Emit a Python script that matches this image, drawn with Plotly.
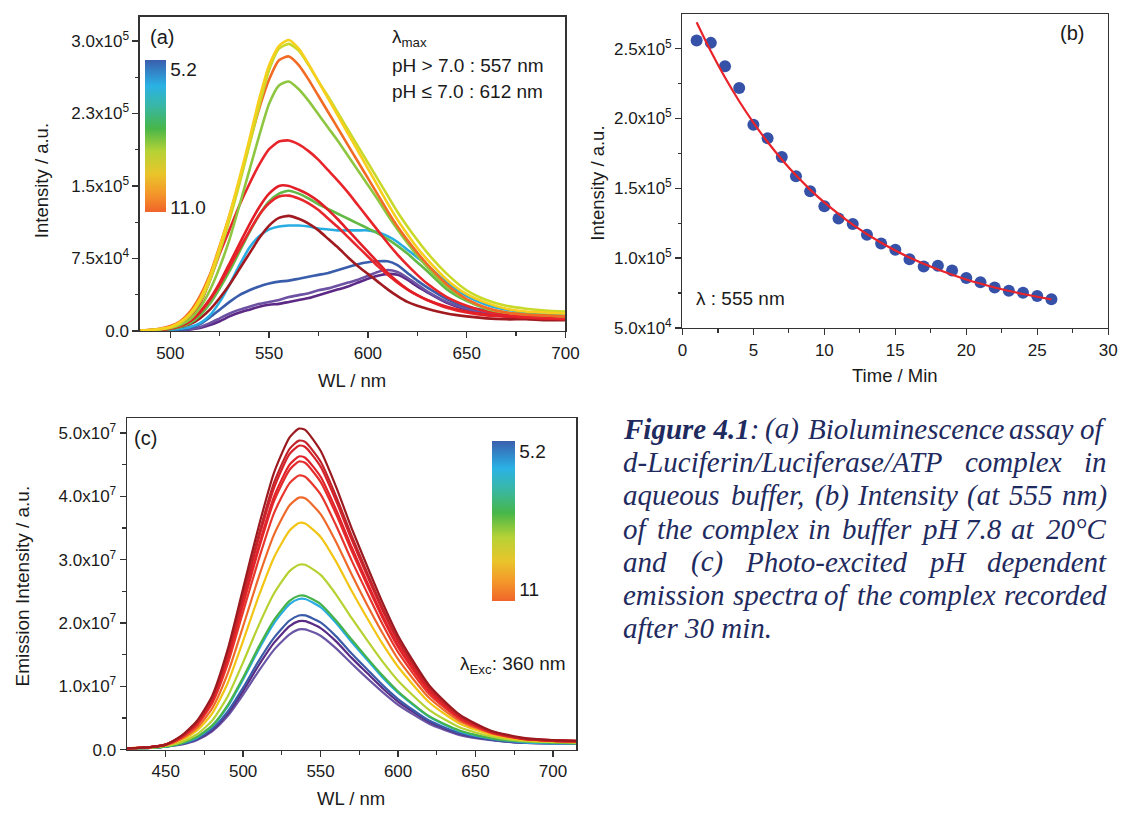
import plotly.graph_objects as go

W, H = 1133, 818

# ---------------- Panel (a): bioluminescence spectra (values in units of 1e5) ----------------
WL_A = [485, 490, 495, 500, 505, 510, 515, 520, 525, 530, 535, 540, 545, 550, 555, 560, 565, 570,
        575, 580, 585, 590, 595, 600, 605, 610, 615, 620, 625, 630, 640, 650, 660, 670, 680, 690, 700]
UNIT_A = 1e5
A_YELLOW = [0.005, 0.01, 0.02, 0.04, 0.09, 0.18, 0.33, 0.56, 0.87, 1.2, 1.58, 1.98, 2.4, 2.75, 2.95, 3.01, 2.92, 2.76,
            2.58, 2.4, 2.22, 2.04, 1.86, 1.68, 1.5, 1.32, 1.15, 1.0, 0.86, 0.74, 0.53, 0.38, 0.29, 0.23, 0.2, 0.19, 0.18]
A_LIME = [0.005, 0.01, 0.02, 0.035, 0.08, 0.16, 0.3, 0.52, 0.82, 1.15, 1.52, 1.92, 2.33, 2.7, 2.92, 2.97, 2.9, 2.75,
          2.58, 2.42, 2.25, 2.08, 1.91, 1.74, 1.57, 1.4, 1.23, 1.08, 0.94, 0.81, 0.59, 0.42, 0.32, 0.26, 0.23, 0.21, 0.2]
A_ORANGE = [0.006, 0.012, 0.025, 0.05, 0.1, 0.2, 0.36, 0.58, 0.88, 1.2, 1.56, 1.94, 2.3, 2.6, 2.8, 2.84, 2.75, 2.6,
            2.43, 2.26, 2.09, 1.92, 1.75, 1.58, 1.41, 1.24, 1.08, 0.94, 0.81, 0.69, 0.48, 0.33, 0.24, 0.19, 0.17, 0.16, 0.15]
A_YGREEN = [0.004, 0.008, 0.016, 0.03, 0.06, 0.12, 0.24, 0.42, 0.66, 0.95, 1.3, 1.66, 2.02, 2.35, 2.54, 2.58, 2.5, 2.38,
            2.24, 2.1, 1.96, 1.81, 1.66, 1.51, 1.36, 1.2, 1.05, 0.91, 0.78, 0.66, 0.46, 0.32, 0.23, 0.19, 0.17, 0.16, 0.15]
A_RED1 = [0.004, 0.008, 0.016, 0.03, 0.06, 0.15, 0.28, 0.52, 0.8, 1.05, 1.3, 1.52, 1.72, 1.88, 1.96, 1.97, 1.93, 1.86,
          1.77, 1.66, 1.55, 1.43, 1.3, 1.17, 1.04, 0.91, 0.79, 0.68, 0.58, 0.49, 0.35, 0.26, 0.2, 0.17, 0.15, 0.14, 0.13]
A_RED2 = [0.003, 0.006, 0.012, 0.025, 0.05, 0.1, 0.2, 0.33, 0.5, 0.7, 0.9, 1.1, 1.28, 1.42, 1.5, 1.5, 1.46, 1.41,
          1.34, 1.25, 1.15, 1.04, 0.93, 0.82, 0.71, 0.6, 0.51, 0.43, 0.37, 0.32, 0.25, 0.2, 0.17, 0.15, 0.14, 0.13, 0.13]
A_RED3 = [0.003, 0.006, 0.012, 0.024, 0.05, 0.1, 0.19, 0.32, 0.48, 0.66, 0.85, 1.03, 1.2, 1.32, 1.39, 1.4, 1.37, 1.32,
          1.25, 1.16, 1.07, 0.97, 0.87, 0.77, 0.67, 0.58, 0.5, 0.43, 0.37, 0.32, 0.24, 0.19, 0.16, 0.15, 0.14, 0.13, 0.12]
A_GREEN = [0.003, 0.005, 0.01, 0.02, 0.04, 0.08, 0.16, 0.28, 0.44, 0.62, 0.82, 1.02, 1.2, 1.34, 1.42, 1.45, 1.42, 1.37,
           1.31, 1.26, 1.21, 1.16, 1.11, 1.06, 1.01, 0.95, 0.88, 0.8, 0.71, 0.62, 0.43, 0.31, 0.23, 0.19, 0.17, 0.16, 0.15]
A_DARKRED = [0.003, 0.005, 0.01, 0.02, 0.04, 0.07, 0.13, 0.22, 0.34, 0.48, 0.64, 0.8, 0.96, 1.09, 1.17, 1.19, 1.16, 1.11,
             1.04, 0.95, 0.86, 0.76, 0.67, 0.59, 0.51, 0.43, 0.36, 0.3, 0.26, 0.23, 0.18, 0.15, 0.13, 0.12, 0.12, 0.11, 0.11]
A_CYAN = [0.002, 0.004, 0.007, 0.012, 0.022, 0.04, 0.08, 0.16, 0.3, 0.48, 0.68, 0.86, 0.98, 1.05, 1.08, 1.09, 1.09, 1.08,
          1.06, 1.05, 1.04, 1.04, 1.04, 1.04, 1.02, 0.98, 0.92, 0.84, 0.76, 0.68, 0.5, 0.36, 0.27, 0.22, 0.19, 0.17, 0.16]
A_BLUE = [0.001, 0.002, 0.004, 0.007, 0.013, 0.03, 0.07, 0.14, 0.22, 0.3, 0.37, 0.42, 0.46, 0.49, 0.51, 0.52, 0.54, 0.56,
          0.58, 0.6, 0.63, 0.66, 0.69, 0.71, 0.72, 0.72, 0.68, 0.6, 0.52, 0.45, 0.33, 0.25, 0.21, 0.18, 0.16, 0.15, 0.14]
A_PURPLE = [0.001, 0.002, 0.003, 0.005, 0.009, 0.018, 0.04, 0.08, 0.13, 0.18, 0.22, 0.25, 0.28, 0.3, 0.32, 0.35, 0.37, 0.39,
            0.42, 0.44, 0.47, 0.5, 0.53, 0.57, 0.61, 0.63, 0.61, 0.55, 0.48, 0.41, 0.3, 0.23, 0.19, 0.16, 0.15, 0.14, 0.13]
A_DPURPLE = [0.001, 0.002, 0.003, 0.004, 0.007, 0.014, 0.03, 0.06, 0.1, 0.15, 0.19, 0.22, 0.25, 0.27, 0.28, 0.3, 0.32, 0.34,
             0.37, 0.4, 0.43, 0.46, 0.5, 0.54, 0.57, 0.59, 0.58, 0.53, 0.46, 0.4, 0.29, 0.22, 0.18, 0.15, 0.14, 0.13, 0.12]

SERIES_A = [
    (A_DPURPLE, "#5c2a86"), (A_PURPLE, "#6d52a3"), (A_BLUE, "#3a5dab"), (A_CYAN, "#28ade3"),
    (A_DARKRED, "#a01a20"), (A_GREEN, "#62b946"), (A_RED3, "#e8272d"), (A_RED2, "#e21f27"),
    (A_RED1, "#e8252b"), (A_YGREEN, "#8fc640"), (A_ORANGE, "#f26a23"), (A_LIME, "#c9d92a"),
    (A_YELLOW, "#f6d01c"),
]

# ---------------- Panel (b): intensity decay at 555 nm ----------------
T_MIN = list(range(1, 27))
B_INT = [2.559e5, 2.542e5, 2.375e5, 2.218e5, 1.956e5, 1.858e5, 1.724e5, 1.587e5, 1.479e5, 1.371e5,
         1.284e5, 1.244e5, 1.168e5, 1.105e5, 1.06e5, 0.992e5, 0.94e5, 0.945e5, 0.912e5, 0.858e5,
         0.827e5, 0.789e5, 0.766e5, 0.752e5, 0.728e5, 0.705e5]
FIT_T = [1, 2, 3, 4, 5, 6, 7, 8, 9, 10, 12, 14, 16, 18, 20, 22, 24, 26]
FIT_I = [2.69e5, 2.482e5, 2.294e5, 2.124e5, 1.971e5, 1.832e5, 1.707e5, 1.593e5, 1.491e5, 1.399e5,
         1.24e5, 1.11e5, 1.004e5, 0.918e5, 0.847e5, 0.79e5, 0.743e5, 0.705e5]

# ---------------- Panel (c): photo-excited emission (values in units of 1e7) ----------------
WL_C = [425, 440, 450, 460, 470, 480, 490, 500, 510, 520, 530, 536, 540, 550, 560, 570, 580, 590, 600,
        620, 640, 660, 680, 700, 715]
UNIT_C = 1e7
C_DARKRED = [0.02, 0.04, 0.08, 0.22, 0.45, 0.85, 1.58, 2.55, 3.52, 4.38, 4.93, 5.07, 5.05, 4.72, 4.15, 3.5, 2.9, 2.32, 1.8,
             1.02, 0.55, 0.3, 0.19, 0.15, 0.14]
C_RED1 = [0.02, 0.04, 0.08, 0.21, 0.43, 0.82, 1.52, 2.46, 3.39, 4.22, 4.75, 4.88, 4.86, 4.55, 4.0, 3.38, 2.8, 2.24, 1.74,
          0.99, 0.53, 0.29, 0.18, 0.15, 0.14]
C_RED2 = [0.02, 0.04, 0.08, 0.21, 0.42, 0.8, 1.49, 2.41, 3.33, 4.14, 4.67, 4.8, 4.78, 4.47, 3.93, 3.32, 2.75, 2.2, 1.71,
          0.97, 0.52, 0.29, 0.18, 0.15, 0.14]
C_RED3 = [0.02, 0.04, 0.08, 0.2, 0.41, 0.77, 1.44, 2.33, 3.21, 4.0, 4.5, 4.63, 4.61, 4.31, 3.79, 3.2, 2.65, 2.12, 1.65,
          0.94, 0.51, 0.28, 0.18, 0.14, 0.13]
C_RED4 = [0.02, 0.04, 0.08, 0.2, 0.4, 0.76, 1.42, 2.29, 3.16, 3.93, 4.42, 4.55, 4.53, 4.23, 3.72, 3.14, 2.6, 2.08, 1.62,
          0.92, 0.5, 0.28, 0.18, 0.14, 0.13]
C_RED5 = [0.02, 0.04, 0.08, 0.19, 0.38, 0.73, 1.35, 2.18, 3.0, 3.74, 4.21, 4.33, 4.31, 4.03, 3.54, 2.99, 2.48, 1.98, 1.54,
          0.88, 0.48, 0.27, 0.17, 0.14, 0.13]
C_ORANGE = [0.02, 0.04, 0.07, 0.17, 0.34, 0.65, 1.2, 1.95, 2.72, 3.4, 3.86, 3.98, 3.97, 3.72, 3.28, 2.77, 2.29, 1.84, 1.43,
            0.82, 0.45, 0.26, 0.17, 0.14, 0.13]
C_YELLOW = [0.02, 0.04, 0.07, 0.15, 0.3, 0.57, 1.05, 1.72, 2.42, 3.04, 3.46, 3.58, 3.57, 3.36, 2.97, 2.51, 2.08, 1.67, 1.31,
            0.75, 0.41, 0.24, 0.16, 0.13, 0.12]
C_YGREEN = [0.02, 0.03, 0.06, 0.12, 0.24, 0.46, 0.84, 1.38, 1.96, 2.47, 2.82, 2.92, 2.92, 2.76, 2.45, 2.08, 1.73, 1.39, 1.09,
            0.63, 0.35, 0.21, 0.14, 0.12, 0.11]
C_GREEN = [0.02, 0.03, 0.05, 0.1, 0.2, 0.38, 0.7, 1.14, 1.62, 2.05, 2.35, 2.43, 2.43, 2.3, 2.04, 1.74, 1.45, 1.17, 0.92,
           0.53, 0.3, 0.18, 0.13, 0.11, 0.1]
C_CYAN = [0.02, 0.03, 0.05, 0.1, 0.19, 0.37, 0.68, 1.11, 1.58, 2.0, 2.3, 2.38, 2.38, 2.25, 2.0, 1.7, 1.42, 1.14, 0.9,
          0.52, 0.29, 0.18, 0.12, 0.1, 0.1]
C_BLUE = [0.02, 0.03, 0.05, 0.09, 0.17, 0.33, 0.6, 0.98, 1.4, 1.77, 2.04, 2.12, 2.12, 2.01, 1.79, 1.52, 1.27, 1.02, 0.8,
          0.46, 0.26, 0.16, 0.11, 0.1, 0.1]
C_DPURPLE = [0.02, 0.03, 0.05, 0.09, 0.16, 0.31, 0.57, 0.93, 1.33, 1.69, 1.95, 2.03, 2.03, 1.92, 1.71, 1.45, 1.21, 0.97, 0.76,
             0.44, 0.25, 0.16, 0.11, 0.1, 0.1]
C_PURPLE = [0.02, 0.03, 0.05, 0.08, 0.15, 0.29, 0.53, 0.87, 1.24, 1.58, 1.82, 1.9, 1.9, 1.8, 1.6, 1.36, 1.13, 0.91, 0.71,
            0.41, 0.23, 0.15, 0.11, 0.1, 0.1]

SERIES_C = [
    (C_PURPLE, "#6b56a6"), (C_DPURPLE, "#5a2b84"), (C_BLUE, "#3b5ba9"), (C_CYAN, "#2aace2"),
    (C_GREEN, "#45b34a"), (C_YGREEN, "#b6d232"), (C_YELLOW, "#f2c514"), (C_ORANGE, "#ef6a2a"),
    (C_RED5, "#e8362d"), (C_RED4, "#e52b2b"), (C_RED3, "#e0232a"), (C_RED2, "#d62229"),
    (C_RED1, "#c3232a"), (C_DARKRED, "#9b1a1f"),
]

for s, _ in SERIES_A:
    assert len(s) == len(WL_A)
for s, _ in SERIES_C:
    assert len(s) == len(WL_C)
assert len(B_INT) == len(T_MIN) and len(FIT_I) == len(FIT_T)

PH_COLORSCALE = [[0.0, "#f0642a"], [0.12, "#f4972a"], [0.25, "#e9c52a"], [0.4, "#b5d236"],
                 [0.55, "#47b649"], [0.7, "#39b7a6"], [0.83, "#2ab2e5"], [1.0, "#3a5ead"]]

SANS = "Liberation Sans, Arial, sans-serif"
TXT = "#1a1a1a"
AX = "#333333"


def px(x):
    return x / W


def py(y):
    return 1 - y / H


fig = go.Figure()

for vals, col in SERIES_A:
    fig.add_trace(go.Scatter(x=WL_A, y=[v * UNIT_A for v in vals], mode="lines",
                             line=dict(color=col, width=2.6, shape="spline", smoothing=0.6),
                             xaxis="x", yaxis="y", hoverinfo="skip"))

fig.add_trace(go.Scatter(x=T_MIN, y=B_INT, mode="markers",
                         marker=dict(color="#3651a8", size=12),
                         xaxis="x2", yaxis="y2", hoverinfo="skip"))
fig.add_trace(go.Scatter(x=FIT_T, y=FIT_I, mode="lines",
                         line=dict(color="#e8232a", width=2.2, shape="spline"),
                         xaxis="x2", yaxis="y2", hoverinfo="skip"))

for vals, col in SERIES_C:
    fig.add_trace(go.Scatter(x=WL_C, y=[v * UNIT_C for v in vals], mode="lines",
                             line=dict(color=col, width=2.2, shape="spline", smoothing=0.6),
                             xaxis="x3", yaxis="y3", hoverinfo="skip"))


def cbar_trace(xaxis, yaxis, x0, y0, left, top, length, thick, labels, labpos):
    return go.Scatter(
        x=[x0], y=[y0], mode="markers", xaxis=xaxis, yaxis=yaxis, hoverinfo="skip",
        marker=dict(size=1, opacity=0, color=[0.5], cmin=0, cmax=1, colorscale=PH_COLORSCALE,
                    showscale=True,
                    colorbar=dict(x=px(left), xanchor="left", y=py(top), yanchor="top",
                                  len=length / H, lenmode="fraction", thickness=thick,
                                  thicknessmode="pixels", outlinewidth=0, xpad=0, ypad=0,
                                  tickmode="array", tickvals=labpos, ticktext=labels, ticks="",
                                  tickfont=dict(family=SANS, size=19, color=TXT))))


fig.add_trace(cbar_trace("x", "y", 600, 0, 142, 61, 154, 21, ["5.2", "11.0"], [0.94, 0.035]))
fig.add_trace(cbar_trace("x3", "y3", 600, 0, 495, 446, 162, 23, ["5.2", "11"], [0.934, 0.07]))

axis_common = dict(showline=True, linecolor=AX, linewidth=1.3, mirror=True, ticks="outside",
                   ticklen=6, tickwidth=1.3, tickcolor=AX, showgrid=False, zeroline=False,
                   tickfont=dict(family=SANS, size=17, color=TXT), fixedrange=True)


def minor(vals):
    return dict(tickmode="array", tickvals=vals, ticks="outside", ticklen=3.5, tickwidth=1.2,
                tickcolor=AX, showgrid=False)


fig.update_layout(
    width=W, height=H, margin=dict(l=0, r=0, t=0, b=0),
    paper_bgcolor="white", plot_bgcolor="white", showlegend=False,
    xaxis=dict(domain=[px(137), px(570)], anchor="y", range=[484.5, 700],
               tickmode="array", tickvals=[500, 550, 600, 650, 700],
               minor=minor([525, 575, 625, 675]), **axis_common),
    yaxis=dict(domain=[py(335), py(17)], anchor="x", range=[0, 3.25e5],
               tickmode="array", tickvals=[0, 7.5e4, 1.5e5, 2.25e5, 3.0e5],
               ticktext=["0.0", "7.5x10<sup>4</sup>", "1.5x10<sup>5</sup>", "2.3x10<sup>5</sup>",
                         "3.0x10<sup>5</sup>"],
               minor=minor([3.75e4, 1.125e5, 1.875e5, 2.625e5]), **axis_common),
    xaxis2=dict(domain=[px(689), px(1122)], anchor="y2", range=[0, 30],
                tickmode="array", tickvals=[0, 5, 10, 15, 20, 25, 30],
                minor=minor([2.5, 7.5, 12.5, 17.5, 22.5, 27.5]), **axis_common),
    yaxis2=dict(domain=[py(332), py(14)], anchor="x2", range=[5e4, 2.75e5],
                tickmode="array", tickvals=[5e4, 1e5, 1.5e5, 2e5, 2.5e5],
                ticktext=["5.0x10<sup>4</sup>", "1.0x10<sup>5</sup>", "1.5x10<sup>5</sup>",
                          "2.0x10<sup>5</sup>", "2.5x10<sup>5</sup>"],
                minor=minor([7.5e4, 1.25e5, 1.75e5, 2.25e5]), **axis_common),
    xaxis3=dict(domain=[px(124), px(581)], anchor="y3", range=[425, 715],
                tickmode="array", tickvals=[450, 500, 550, 600, 650, 700],
                minor=minor([475, 525, 575, 625, 675]), **axis_common),
    yaxis3=dict(domain=[py(759), py(423)], anchor="x3", range=[0, 5.24e7],
                tickmode="array", tickvals=[0, 1e7, 2e7, 3e7, 4e7, 5e7],
                ticktext=["0.0", "1.0x10<sup>7</sup>", "2.0x10<sup>7</sup>", "3.0x10<sup>7</sup>",
                          "4.0x10<sup>7</sup>", "5.0x10<sup>7</sup>"],
                minor=minor([5e6, 1.5e7, 2.5e7, 3.5e7, 4.5e7]), **axis_common),
)


def note(text, x, y, size=19, xanchor="left", yanchor="middle", angle=0, family=SANS, color=TXT,
         style="normal"):
    fig.add_annotation(text=text, x=px(x), y=py(y), xref="paper", yref="paper", showarrow=False,
                       xanchor=xanchor, yanchor=yanchor, textangle=angle,
                       font=dict(family=family, size=size, color=color, style=style))


# axis titles
note("Intensity / a.u.", 37, 183, 18.5, "center", angle=-90)
note("WL / nm", 353, 385, 18.5, "center")
note("Intensity / a.u.", 603, 185, 18.5, "center", angle=-90)
note("Time / Min", 905, 380, 18.5, "center")
note("Emission Intensity / a.u.", 18, 593, 19, "center", angle=-90)
note("WL / nm", 352, 808, 18.5, "center")

# panel labels / in-plot text
note("(a)", 145, 37, 20)
note("λ<sub>max</sub>", 392, 38, 19)
note("pH > 7.0 : 557 nm", 392, 66, 19)
note("pH ≤ 7.0 : 612 nm", 392, 93, 19)
note("(b)", 1071, 33, 20)
note("λ : 555 nm", 701, 302, 19)
note("(c)", 129, 443, 20)
note("λ<sub>Exc</sub>: 360 nm", 461, 673, 19)

# caption, justified: each word placed where it sits in the reference block
CAP = "#1f2b5e"
SERIF = "Liberation Serif, Times New Roman, serif"
BASE = [443.3, 476.9, 510.5, 544.1, 577.7, 611.3, 644.9]
FS = 29
OFF = 9
LEFT, RIGHT = 627, 1123

CAPTION_WORDS = [
    [("<b>Figure 4.1</b>:", LEFT, "left"), ("(a)", 790, "center"), ("Bioluminescence", 917, "center"),
     ("assay", 1054, "center"), ("of", RIGHT, "right")],
    [("d-Luciferin/Luciferase/ATP", LEFT, "left"), ("complex", 1026, "center"), ("in", RIGHT, "right")],
    [("aqueous", LEFT, "left"), ("buffer,", 776, "center"), ("(b)", 841, "center"),
     ("Intensity", 918, "center"), ("(at", 995, "center"), ("555", 1044, "center"),
     ("nm)", RIGHT, "right")],
    [("of", LEFT, "left"), ("the", 681, "center"), ("complex", 758, "center"), ("in", 828, "center"),
     ("buffer", 887, "center"), ("pH", 952, "center"), ("7.8", 995, "center"), ("at", 1035, "center"),
     ("20°C", RIGHT, "right")],
    [("and", LEFT, "left"), ("(c)", 714, "center"), ("Photo-excited", 836, "center"),
     ("pH", 959, "center"), ("dependent", RIGHT, "right")],
    [("emission", LEFT, "left"), ("spectra", 784, "center"), ("of", 847, "center"),
     ("the", 885, "center"), ("complex", 959, "center"), ("recorded", RIGHT, "right")],
    [("after 30 min.", LEFT, "left")],
]

for line, words in enumerate(CAPTION_WORDS):
    for text, x, anchor in words:
        note(text, x, BASE[line] - OFF, FS, anchor, family=SERIF, color=CAP, style="italic")

fig.write_html("out.html", config={"displayModeBar": False, "staticPlot": True})

# remove the browser's default page margin so the figure sits at the window origin
with open("out.html", "r", encoding="utf-8") as f:
    html = f.read()
html = html.replace("<head>", "<head><style>html,body{margin:0;padding:0;overflow:hidden;}</style>", 1)
with open("out.html", "w", encoding="utf-8") as f:
    f.write(html)
